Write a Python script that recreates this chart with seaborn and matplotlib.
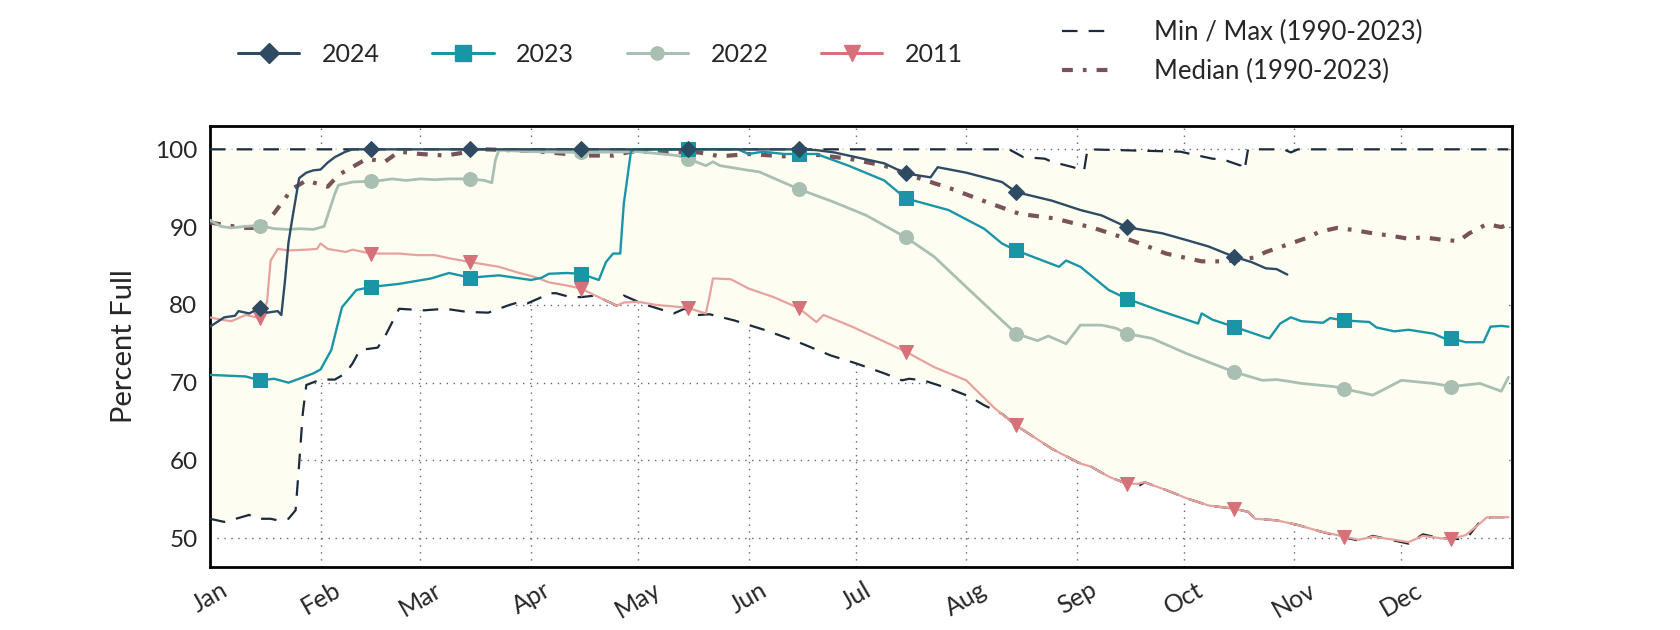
import numpy as np
import matplotlib
matplotlib.use("Agg")
import matplotlib.pyplot as plt
import seaborn as sns
from matplotlib.lines import Line2D

# ---------------- data (day of year, percent full) ----------------
month_labels = ["Jan", "Feb", "Mar", "Apr", "May", "Jun",
                "Jul", "Aug", "Sep", "Oct", "Nov", "Dec"]
month_start_days = [0, 31, 59, 90, 120, 151, 181, 212, 243, 273, 304, 334]
marker_days = [14, 45, 73, 104, 134, 165, 195, 226, 257, 287, 318, 348]
y_ticks = [50, 60, 70, 80, 90, 100]

days_2024 = [0, 4, 7, 8, 11, 14, 16, 19, 20, 21, 22, 23, 25, 27, 29, 31, 33, 35,
             38, 40, 45, 73, 104, 134, 165, 170, 175, 181, 189, 195, 202, 204, 212,
             222, 226, 236, 244, 250, 257, 267, 274, 280, 287, 292, 296, 299, 302]
vals_2024 = [77.2, 78.4, 78.6, 79.2, 78.9, 79.6, 79.0, 79.2, 78.7, 83.0, 88.0, 90.9,
             96.3, 97.0, 97.3, 97.4, 98.3, 99.0, 99.7, 100, 100, 100, 100, 100, 100,
             99.9, 99.6, 99.0, 98.2, 96.9, 96.4, 97.7, 97.0, 95.8, 94.5, 93.4, 92.2,
             91.5, 90.0, 89.2, 88.3, 87.5, 86.2, 85.5, 84.7, 84.6, 83.9]

days_2023 = [0, 5, 10, 14, 18, 22, 25, 29, 31, 34, 37, 41, 45, 53, 62, 67, 73, 81,
             90, 93, 95, 100, 104, 109, 111, 113, 115, 116, 118, 119, 134, 148, 151,
             155, 161, 165, 170, 179, 189, 195, 207, 217, 222, 226, 238, 240, 244,
             252, 257, 266, 277, 278, 281, 287, 296, 297, 300, 303, 306, 312, 314,
             318, 325, 327, 332, 336, 343, 346, 348, 352, 357, 359, 362, 364]
vals_2023 = [71.0, 70.9, 70.8, 70.3, 70.5, 70.0, 70.5, 71.2, 71.7, 74.2, 79.7, 81.9,
             82.3, 82.7, 83.4, 84.1, 83.5, 83.8, 83.2, 83.5, 84.0, 84.1, 84.0, 83.2,
             85.5, 86.6, 86.6, 93.0, 99.7, 100, 100, 100, 99.4, 99.7, 99.4, 99.4,
             99.4, 97.9, 96.0, 93.7, 92.2, 89.8, 87.9, 87.0, 84.9, 85.7, 84.9, 81.9,
             80.8, 79.3, 77.6, 78.9, 78.1, 77.2, 75.8, 75.7, 77.6, 78.4, 77.9, 77.7,
             78.3, 78.0, 77.8, 77.1, 76.6, 76.8, 76.3, 75.7, 75.7, 75.2, 75.2, 77.2,
             77.3, 77.2]

days_2022 = [0, 3, 6, 10, 14, 18, 22, 25, 29, 32, 35, 36, 40, 45, 48, 51, 55, 59, 63,
             67, 73, 77, 79, 80, 81, 90, 104, 120, 131, 134, 139, 141, 143, 151, 154,
             165, 175, 184, 195, 203, 212, 222, 226, 232, 235, 240, 244, 250, 254,
             257, 264, 274, 287, 295, 299, 302, 306, 315, 318, 326, 334, 343, 348,
             356, 362, 364]
vals_2022 = [90.9, 90.1, 89.9, 90.1, 90.2, 89.8, 89.7, 89.8, 89.7, 90.1, 94.3, 95.4,
             95.8, 95.9, 96.0, 96.2, 96.0, 96.2, 96.1, 96.2, 96.2, 96.0, 95.7, 98.6,
             99.9, 99.7, 99.6, 99.7, 99.2, 98.8, 97.9, 98.4, 97.9, 97.3, 97.1, 94.9,
             93.2, 91.5, 88.7, 86.2, 82.3, 78.0, 76.3, 75.4, 76.0, 75.0, 77.4, 77.4,
             77.0, 76.3, 75.7, 73.7, 71.4, 70.3, 70.4, 70.2, 69.9, 69.5, 69.2, 68.4,
             70.3, 69.9, 69.5, 69.9, 68.9, 70.7]

days_2011 = [0, 3, 6, 10, 14, 16, 17, 19, 22, 27, 30, 31, 33, 38, 40, 45, 53, 58, 63,
             67, 73, 77, 81, 86, 91, 95, 100, 104, 108, 114, 116, 120, 125, 130, 134,
             139, 140, 141, 146, 151, 158, 165, 170, 172, 180, 188, 195, 203, 212,
             216, 220, 226, 231, 236, 244, 247, 252, 257, 260, 262, 268, 274, 280,
             287, 291, 293, 299, 305, 311, 318, 322, 326, 332, 336, 340, 345, 348,
             352, 355, 358, 360, 364]
vals_2011 = [78.4, 78.1, 77.9, 78.7, 78.3, 80.4, 85.7, 87.2, 87.0, 87.1, 87.2, 87.9,
             87.2, 86.8, 87.1, 86.6, 86.6, 86.4, 86.4, 86.0, 85.5, 85.2, 84.9, 84.2,
             83.6, 82.9, 82.5, 82.1, 81.2, 79.9, 80.3, 80.4, 80.0, 79.8, 79.6, 78.9,
             81.0, 83.4, 83.3, 82.1, 81.0, 79.6, 77.8, 78.7, 77.2, 75.5, 74.0, 72.0,
             70.3, 68.5, 66.7, 64.5, 63.0, 61.5, 59.6, 59.2, 57.9, 57.0, 57.0, 57.2,
             56.2, 55.1, 54.2, 53.8, 53.4, 52.5, 52.3, 51.7, 50.9, 50.2, 49.8, 50.2,
             49.8, 49.5, 50.3, 50.0, 49.9, 50.4, 51.5, 52.7, 52.7, 52.7]

days_min = [0, 4, 8, 11, 13, 17, 19, 22, 24, 25, 26, 27, 31, 35, 38, 40, 42, 47, 49,
            53, 60, 66, 72, 78, 84, 87, 89, 91, 93, 95, 97, 101, 104, 108, 114, 116,
            120, 123, 130, 133, 137, 140, 147, 156, 165, 174, 181, 189, 194, 196, 200,
            208, 213, 217, 222, 226, 231, 236, 244, 247, 252, 257, 260, 262, 268, 274,
            280, 287, 291, 293, 299, 305, 311, 317, 322, 326, 332, 336, 340, 345, 350,
            353, 356, 359, 364]
vals_min = [52.5, 52.1, 52.6, 53.0, 52.5, 52.5, 52.3, 52.5, 53.6, 59.6, 66.0, 69.7,
            70.4, 70.4, 71.2, 72.5, 74.2, 74.5, 75.9, 79.5, 79.3, 79.5, 79.1, 79.0,
            80.0, 80.4, 80.2, 80.6, 81.0, 81.5, 81.5, 81.0, 81.0, 81.2, 79.9, 81.2,
            80.4, 79.9, 78.9, 79.5, 78.7, 78.8, 78.0, 76.7, 75.2, 73.5, 72.5, 71.2,
            70.3, 70.5, 70.3, 69.1, 68.2, 67.1, 66.0, 64.5, 63.0, 61.5, 59.6, 59.2,
            57.9, 57.0, 56.6, 57.2, 56.2, 55.1, 54.2, 53.8, 53.4, 52.5, 52.3, 51.7,
            50.9, 50.2, 49.7, 50.3, 49.7, 49.3, 50.5, 50.0, 49.9, 50.4, 52.1, 52.7,
            52.7]

days_max = [0, 224, 228, 234, 236, 242, 245, 246, 272, 275, 281, 284, 289, 290, 291,
            301, 303, 305, 364]
vals_max = [100, 100, 99.0, 98.8, 98.4, 97.7, 97.2, 100, 99.7, 99.4, 98.8, 98.7,
            97.9, 97.3, 100, 100, 99.6, 100, 100]

days_median = [0, 5, 10, 14, 18, 23, 27, 33, 36, 44, 49, 53, 59, 66, 77, 90, 105, 113,
               118, 137, 143, 151, 161, 168, 179, 189, 198, 208, 219, 227, 237, 243,
               247, 257, 263, 268, 278, 285, 293, 296, 303, 308, 311, 316, 321, 326,
               331, 336, 340, 345, 350, 353, 358, 362, 364]
vals_median = [90.6, 90.2, 89.9, 89.9, 91.8, 94.9, 96.0, 95.2, 96.7, 98.8, 98.4, 99.7,
               99.4, 99.2, 100.0, 99.8, 99.2, 99.2, 99.7, 99.6, 99.1, 99.4, 99.1, 99.4,
               98.8, 97.9, 96.4, 94.9, 93.0, 91.7, 91.1, 90.4, 90.0, 88.5, 87.5, 86.6,
               85.6, 85.6, 86.1, 86.8, 87.9, 88.7, 89.4, 89.9, 89.6, 89.2, 88.9, 88.5,
               88.7, 88.4, 88.2, 89.2, 90.4, 90.0, 90.4]

# ---------------- style ----------------
sns.set_style("white")
plt.rcParams["font.family"] = ["Lato", "DejaVu Sans"]

C_MINMAX = "#1b2a3c"
C_MEDIAN = "#7a525a"
C_2024 = "#2e4b63"
C_2023 = "#1995a6"
C_2022 = "#a9bfb2"
C_2011_LINE = "#e6a39e"
C_2011_MK = "#d6717a"
C_FILL = "#fdfdf2"

fig = plt.figure(figsize=(16.8, 6.3), dpi=100)
ax = fig.add_axes([0.125, 0.1, 0.775, 0.7])


def mk_idx(days):
    return [i for i, d in enumerate(days) if d in marker_days]


# envelope
ax.fill(np.concatenate([days_min, days_max[::-1]]),
        np.concatenate([vals_min, vals_max[::-1]]),
        color=C_FILL, lw=0, zorder=1)

minmax_style = dict(color=C_MINMAX, lw=1.6, linestyle=(0, (7, 5)))
sns.lineplot(x=days_max, y=vals_max, ax=ax, zorder=3, **minmax_style)
sns.lineplot(x=days_min, y=vals_min, ax=ax, zorder=3, **minmax_style)
median_style = dict(color=C_MEDIAN, lw=3.0, linestyle=(0, (2.6, 2.4, 0.9, 2.4)))
sns.lineplot(x=days_median, y=vals_median, ax=ax, zorder=3, **median_style)

s2011 = dict(color=C_2011_LINE, lw=1.6, marker="v", markersize=10.5,
             markerfacecolor=C_2011_MK, markeredgecolor=C_2011_MK)
sns.lineplot(x=days_2011, y=vals_2011, ax=ax, zorder=4,
             markevery=mk_idx(days_2011), **s2011)
s2022 = dict(color=C_2022, lw=2.0, marker="o", markersize=10,
             markerfacecolor=C_2022, markeredgecolor=C_2022)
sns.lineplot(x=days_2022, y=vals_2022, ax=ax, zorder=5,
             markevery=mk_idx(days_2022), **s2022)
s2023 = dict(color=C_2023, lw=1.7, marker="s", markersize=9.5,
             markerfacecolor=C_2023, markeredgecolor=C_2023)
sns.lineplot(x=days_2023, y=vals_2023, ax=ax, zorder=6,
             markevery=mk_idx(days_2023), **s2023)
s2024 = dict(color=C_2024, lw=1.7, marker="D", markersize=8,
             markerfacecolor=C_2024, markeredgecolor=C_2024)
sns.lineplot(x=days_2024, y=vals_2024, ax=ax, zorder=7,
             markevery=mk_idx(days_2024), **s2024)

ax.set_xlim(0, 365)
ax.set_ylim(46.3, 103)
ax.set_xticks(month_start_days)
ax.set_xticklabels(month_labels, rotation=30, ha="center", fontsize=18)
ax.set_yticks(y_ticks)
ax.set_yticklabels([str(v) for v in y_ticks], fontsize=17.5)
ax.tick_params(axis="both", length=0)
ax.tick_params(axis="x", pad=8)
ax.tick_params(axis="y", pad=9)
ax.set_ylabel("Percent Full", fontsize=21, labelpad=13)
ax.set_xlabel("")
ax.grid(True, color="#666666", lw=1.0, linestyle=(0, (1, 4)))
for g in ax.get_xgridlines() + ax.get_ygridlines():
    g.set_zorder(2)
for sp in ax.spines.values():
    sp.set_visible(True)
    sp.set_color("black")
    sp.set_linewidth(2.0)

# legends
h_years = [
    Line2D([], [], **{**s2024, "lw": 2.2, "markersize": 10}),
    Line2D([], [], **{**s2023, "lw": 2.2, "markersize": 11.5}),
    Line2D([], [], **{**s2022, "lw": 2.2, "markersize": 9.5}),
    Line2D([], [], **{**s2011, "color": C_2011_MK, "lw": 2.2, "markersize": 11}),
]
leg1 = fig.legend(h_years, ["2024", "2023", "2022", "2011"], ncol=4,
                  loc="center left", bbox_to_anchor=(0.1418, 0.914),
                  frameon=False, fontsize=18,
                  handlelength=2.45, handletextpad=0.9, columnspacing=2.1,
                  borderpad=0, borderaxespad=0)
h_env = [Line2D([], [], **minmax_style), Line2D([], [], **median_style)]
leg2 = fig.legend(h_env, ["Min / Max (1990-2023)", "Median (1990-2023)"], ncol=1,
                  loc="center left", bbox_to_anchor=(0.632, 0.917),
                  frameon=False, fontsize=18.5, handlelength=2.0,
                  handletextpad=1.6, labelspacing=0.55, borderpad=0,
                  borderaxespad=0)

fig.savefig("out.png", dpi=100)
